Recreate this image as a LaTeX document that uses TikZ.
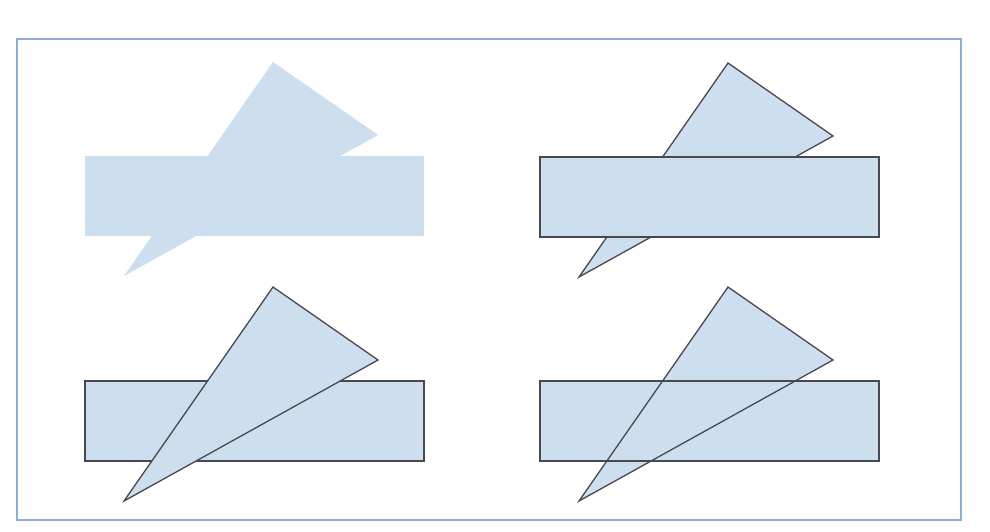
\documentclass[tikz,border=0pt]{standalone}
\usepackage{tikz}
\definecolor{piecefill}{RGB}{205,222,239}
\definecolor{framecol}{RGB}{141,172,216}
\definecolor{edgecol}{RGB}{72,72,80}

\begin{document}
\begin{tikzpicture}[x=1pt,y=-1pt,
    piece/.style={fill=piecefill},
    rim/.style={draw=edgecol,line width=1.3pt,line join=miter}]
    \useasboundingbox (0,0) rectangle (990,531);
    \draw[framecol,line width=2.2pt] (17,39) rectangle (961,520);

    % top left: union, no outline
    \begin{scope}
        \coordinate (ra) at (85,156);
        \coordinate (rb) at (424,236);
        \fill[piece] (ra) rectangle (rb);
        \fill[piece] (273,62) -- (378,135) -- (124,276) -- cycle;
    \end{scope}

    % top right: rectangle over triangle
    \begin{scope}[shift={(455,1)}]
        \coordinate (ra) at (85,156);
        \coordinate (rb) at (424,236);
        \filldraw[piece,rim] (273,62) -- (378,135) -- (124,276) -- cycle;
        \filldraw[piece,rim] (ra) rectangle (rb);
    \end{scope}

    % bottom left: triangle over rectangle
    \begin{scope}[shift={(0,225)}]
        \coordinate (ra) at (85,156);
        \coordinate (rb) at (424,236);
        \filldraw[piece,rim] (ra) rectangle (rb);
        \filldraw[piece,rim] (273,62) -- (378,135) -- (124,276) -- cycle;
    \end{scope}

    % bottom right: both outlines
    \begin{scope}[shift={(455,225)}]
        \coordinate (ra) at (85,156);
        \coordinate (rb) at (424,236);
        \fill[piece] (ra) rectangle (rb);
        \fill[piece] (273,62) -- (378,135) -- (124,276) -- cycle;
        \draw[rim] (ra) rectangle (rb);
        \draw[rim] (273,62) -- (378,135) -- (124,276) -- cycle;
    \end{scope}
\end{tikzpicture}
\end{document}
